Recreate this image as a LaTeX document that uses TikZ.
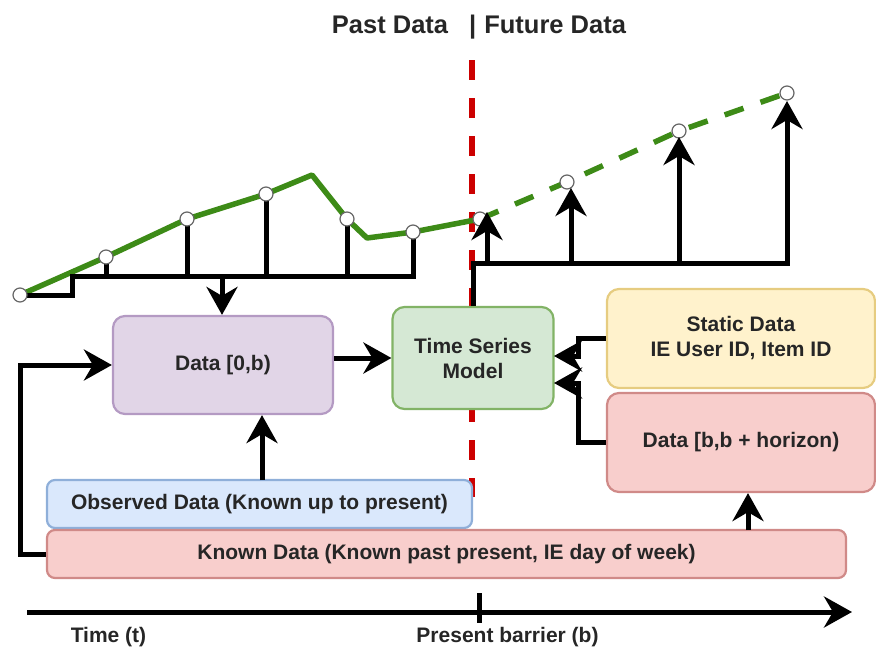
\documentclass[tikz,border=0pt]{standalone}
\usepackage{fontspec}
\setmainfont{Liberation Sans}
\usetikzlibrary{arrows.meta}
\definecolor{txt}{HTML}{262626}
\definecolor{purpF}{HTML}{E1D5E7}\definecolor{purpD}{HTML}{B49AC3}
\definecolor{grnF}{HTML}{D5E8D4}\definecolor{grnD}{HTML}{82B366}
\definecolor{ylwF}{HTML}{FFF2CC}\definecolor{ylwD}{HTML}{E6CC80}
\definecolor{redF}{HTML}{F8CECC}\definecolor{redD}{HTML}{D08A88}
\definecolor{bluF}{HTML}{DAE8FC}\definecolor{bluD}{HTML}{8FAFD9}
\definecolor{lineG}{HTML}{3D8B17}
\definecolor{dashR}{HTML}{CC0000}
\newcommand\mylbl{\fontsize{21}{25}\selectfont\bfseries}
\begin{document}
\begin{tikzpicture}[x=1pt,y=-1pt,
  box/.style={draw, line width=2.2pt, rounded corners=12pt, inner sep=0pt, align=center, font=\mylbl, text=txt},
  thinbox/.style={box, rounded corners=8pt},
  blk/.style={line width=5pt, black},
  arr/.style={blk, -{Stealth[length=28pt,width=31pt,inset=9pt]}},
  dot/.style={circle, draw=black!60, fill=white, line width=1.2pt, minimum size=14pt, inner sep=0pt},
  gline/.style={line width=5.5pt, lineG, line join=round},
  lbltext/.style={font=\mylbl, text=txt, inner sep=0pt, anchor=base}]
\useasboundingbox (0,0) rectangle (876,648);
% red barrier
\coordinate (rt) at (472,60);
\coordinate (rb) at (472,497);
\draw[line width=6pt, dashR, dash pattern=on 20pt off 18pt] (rt) -- (rb);
% boxes
\node[box, fill=purpF, draw=purpD, minimum width=220pt, minimum height=98pt] (dataA) at (223,365) {Data [0,b)};
\node[box, fill=grnF, draw=grnD, minimum width=161pt, minimum height=102pt] (tsm) at (473,358) {Time Series\\Model};
\node[box, fill=ylwF, draw=ylwD, minimum width=268pt, minimum height=99pt] (static) at (741,338.5) {Static Data\\IE User ID, Item ID};
\node[box, fill=redF, draw=redD, minimum width=268pt, minimum height=99pt] (dataB) at (741,442.5) {Data [b,b + horizon)};
\node[thinbox, fill=bluF, draw=bluD, minimum width=425pt, minimum height=48pt] (obs) at (259.5,504) {Observed Data (Known up to present)};
\node[thinbox, fill=redF, draw=redD, minimum width=799pt, minimum height=48pt] (known) at (446.5,554) {Known Data (Known past present, IE day of week)};
% series points
\coordinate (c0) at (20,295);
\coordinate (c1) at (106,257);
\coordinate (c2) at (187,219);
\coordinate (c3) at (266,194);
\coordinate (pk) at (312,175);
\coordinate (c4) at (347,219);
\coordinate (vl) at (367,238);
\coordinate (c5) at (413,232);
\coordinate (c6) at (480,219);
\coordinate (f1) at (567,182);
\coordinate (f2) at (679,131);
\coordinate (f3) at (787,93);
\draw[gline] (c0) -- (c1) -- (c2) -- (c3) -- (pk) -- (c4) -- (vl) -- (c5) -- (c6);
\draw[gline, dash pattern=on 20pt off 18pt] (c6) -- (f1) -- (f2) -- (f3);
% past black structure
\coordinate (k1) at (72,295);
\coordinate (k2) at (72,276);
\coordinate (k3) at (413,276);
\draw[blk] (c0) -- (k1) -- (k2) -- (k3) -- (c5);
\draw[blk] (c1 |- k2) -- (c1);
\draw[blk] (c2 |- k2) -- (c2);
\draw[blk] (c3 |- k2) -- (c3);
\draw[blk] (c4 |- k2) -- (c4);
\coordinate (da) at (222,276);
\draw[arr] (da) -- (da |- dataA.north);
% circles
\foreach \p in {c0,c1,c2,c3,c4,c5,c6,f1,f2,f3} {\node[dot] (d\p) at (\p) {};}
% future black structure
\coordinate (fb0) at (473,263);
\coordinate (fb1) at (787,263);
\coordinate (t3) at (787,101);
\draw[arr] (tsm.north) -- (fb0) -- (fb1) -- (t3);
\coordinate (a0) at (487,263); \coordinate (t0) at (487,212);
\coordinate (a1) at (571,263); \coordinate (t1) at (571,188);
\coordinate (a2) at (679,263); \coordinate (t2) at (679,137);
\draw[arr] (a0) -- (t0);
\draw[arr] (a1) -- (t1);
\draw[arr] (a2) -- (t2);
% box connectors
\draw[arr] (dataA.east |- tsm.west) -- (tsm.west);
\coordinate (ox) at (262,480);
\draw[arr] (ox) -- (ox |- dataA.south);
\coordinate (lk) at (20,365);
\draw[arr] (known.west) -| (lk) -- (dataA.west);
\coordinate (kx) at (748,530);
\draw[arr] (kx) -- (kx |- dataB.south);
\coordinate (j2) at (578,356); \coordinate (in1) at (554,356);
\coordinate (j3) at (578,383); \coordinate (in2) at (554,383);
\draw[arr] (static.west) -| (j2) -- (in1);
\draw[arr] (dataB.west) -| (j3) -- (in2);
% time axis
\coordinate (ax0) at (27,612);
\coordinate (ax1) at (852,612);
\draw[arr] (ax0) -- (ax1);
\coordinate (tk0) at (479,593);
\coordinate (tk1) at (479,623);
\draw[blk] (tk0) -- (tk1);
% texts
\node[lbltext] (tlab) at (108.5,642) {Time (t)};
\node[lbltext] (plab) at (507.5,642) {Present barrier (b)};
\node[font=\fontsize{25.5}{30}\selectfont\bfseries, text=txt, inner sep=0pt, anchor=base] (title) at (479,33) {Past Data\hspace{21pt}|\hspace{8pt}Future Data};
\end{tikzpicture}
\end{document}
